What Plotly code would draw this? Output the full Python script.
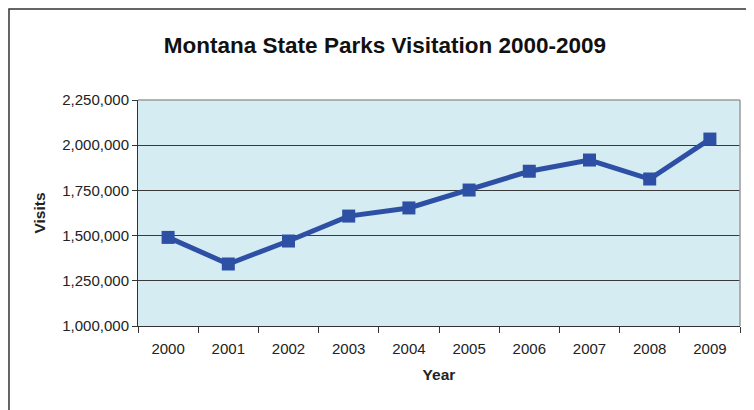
import plotly.graph_objects as go

years = ["2000", "2001", "2002", "2003", "2004", "2005", "2006", "2007", "2008", "2009"]
visits = [1490000, 1343000, 1470000, 1608000, 1653000, 1752000, 1856000, 1918000, 1813000, 2034000]
y_ticks = [1000000, 1250000, 1500000, 1750000, 2000000, 2250000]

fig = go.Figure()
fig.add_trace(go.Scatter(
    x=years, y=visits, mode="lines+markers",
    line=dict(color="#2E50A4", width=5),
    marker=dict(symbol="square", size=13, color="#2E50A4"),
    showlegend=False,
))

fig.update_layout(
    width=754, height=410,
    margin=dict(l=130, r=22, t=92, b=92),
    paper_bgcolor="white",
    plot_bgcolor="#D5ECF3",
    font=dict(family="Liberation Sans, Arial", size=15, color="#222222"),
    title=dict(text="<b>Montana State Parks Visitation 2000-2009</b>",
               x=0.5, xanchor="center", y=0.91, yanchor="middle",
               font=dict(size=22.5, color="#111111")),
    xaxis=dict(
        type="category", range=[-0.5, len(years) - 0.5],
        tickson="boundaries", ticks="outside", ticklen=6,
        tickcolor="#333333", showline=True, linecolor="#333333", linewidth=1,
        showgrid=False, mirror=False, ticklabelstandoff=9,
        tickfont=dict(size=15),
        title=dict(text="<b>Year</b>", font=dict(size=15.5, color="#222222"), standoff=13),
    ),
    yaxis=dict(
        range=[1000000, 2250000], tickvals=y_ticks, tickformat=",d",
        ticks="outside", ticklen=5, tickcolor="#333333",
        showline=True, linecolor="#333333", linewidth=1,
        showgrid=True, gridcolor="#3a3a3a", gridwidth=1,
        zeroline=False, ticklabelstandoff=0,
        tickfont=dict(size=15),
        title=dict(text="<b>Visits</b>", font=dict(size=15.5, color="#222222"), standoff=12),
    ),
    shapes=[
        dict(type="line", xref="paper", yref="paper", x0=0, x1=1, y0=1, y1=1,
             line=dict(color="#9a9a9a", width=1.5)),
        dict(type="line", xref="paper", yref="paper", x0=1, x1=1, y0=0, y1=1,
             line=dict(color="#9a9a9a", width=1.5)),
        dict(type="rect", xref="paper", yref="paper", x0=-0.2143, x1=1.1, y0=-0.6, y1=1.4027,
             line=dict(color="#333333", width=1.5), layer="below"),
    ],
)

fig.write_html("out.html")
